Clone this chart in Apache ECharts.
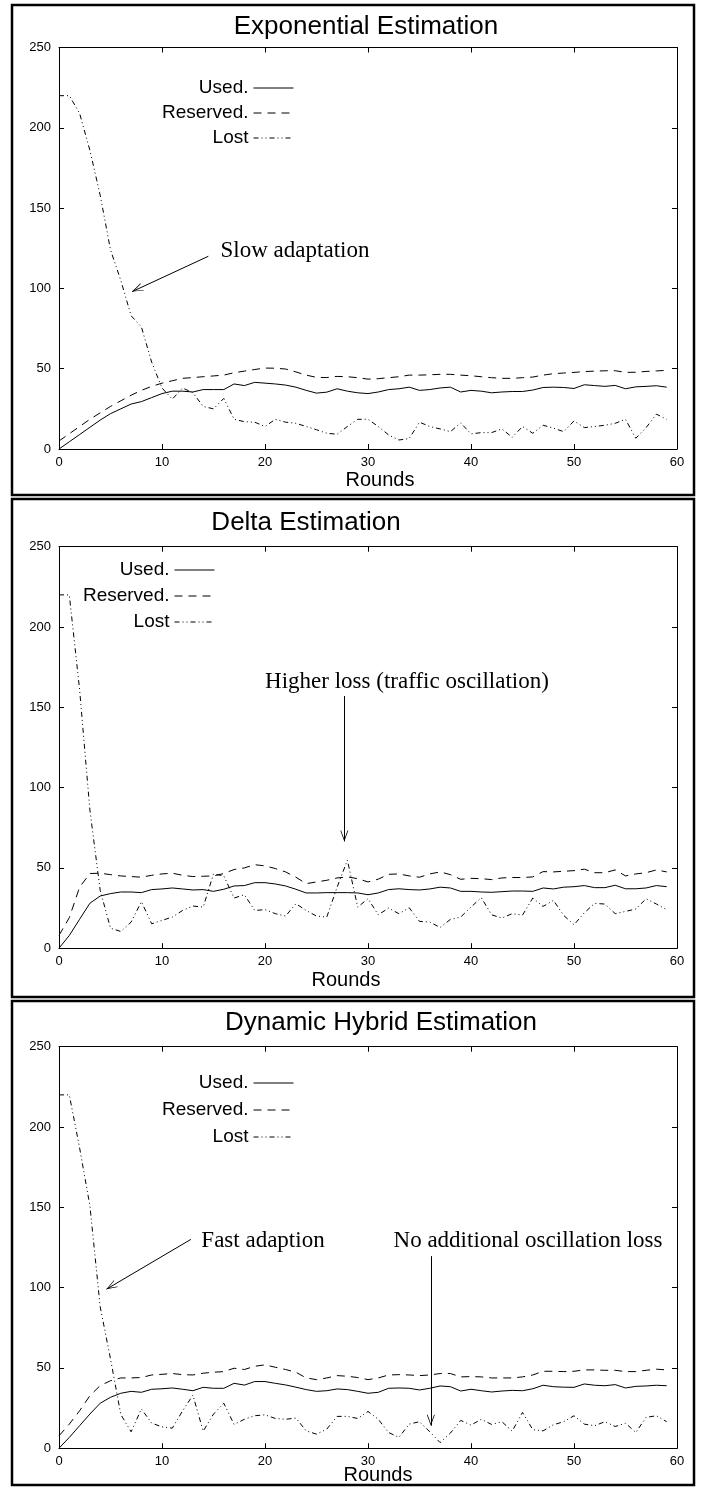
<!DOCTYPE html>
<html lang="en" style="height: 100%">
<head>
  <meta charset="utf-8">
  <title>Estimation comparison</title>
</head>
<body style="height: 100%; margin: 0; background: #fff">
  <div id="container" style="width: 704px; height: 1488px"></div>

  <script type="text/javascript" src="https://cdn.jsdelivr.net/npm/echarts@6/dist/echarts.min.js"></script>

  <script type="text/javascript">
    // x values (rounds)
    var rounds = [0, 1, 2, 3, 4, 5, 6, 7, 8, 9, 10, 11, 12, 13, 14, 15, 16, 17, 18, 19,
      20, 21, 22, 23, 24, 25, 26, 27, 28, 29, 30, 31, 32, 33, 34, 35, 36, 37, 38, 39,
      40, 41, 42, 43, 44, 45, 46, 47, 48, 49, 50, 51, 52, 53, 54, 55, 56, 57, 58, 59];

    // Exponential estimation
    var expUsed = [0, 4.5, 9, 13.5, 18, 22, 25, 28, 29.5, 32, 34.5, 36, 36, 35.5, 37, 37, 37, 40.5, 39.5, 41.5,
      41, 40.5, 39.8, 38.5, 36.5, 34.8, 35.4, 37.5, 36, 35, 34.5, 35.5, 37, 37.5, 38.5, 36.5, 37, 38, 38.5, 35.5,
      36.5, 36, 35, 35.5, 35.8, 35.8, 36.7, 38.3, 38.5, 38.3, 37.7, 40, 39.5, 39, 39.6, 37.5, 38.7, 39, 39.4, 38.5];
    var expRes = [5, 9.5, 14, 18.5, 22.5, 26.5, 30, 33.5, 36.5, 39, 41, 42.5, 44, 44.5, 45, 45.5, 46, 47.5, 48.5, 49.5,
      50.4, 50.3, 49.8, 48, 46, 44.6, 44.5, 45.2, 45, 44.4, 43.5, 43.8, 44.4, 45, 46, 46, 46.2, 46.5, 46.5, 46,
      45.6, 45, 44.4, 44, 44, 44.4, 44.8, 46, 46.9, 47.3, 47.7, 48.2, 48.5, 48.7, 48.75, 47.7, 47.8, 48.3, 48.6, 49];
    var expLost = [220, 220, 209, 186, 158, 124, 105, 83, 76, 54, 38, 31, 38, 35, 26.5, 25, 31.5, 18.5, 17, 16.7,
      14, 18.5, 16.7, 16, 14, 12, 9.8, 9.2, 14, 18.5, 18.5, 14, 8.75, 5.6, 6.5, 16.7, 14, 12.5, 10.8, 16.25,
      9.4, 10.2, 10.2, 12.5, 7.3, 14, 9.8, 14.8, 13, 10.8, 17.5, 13.3, 14, 14.8, 16, 18.5, 6.7, 13.3, 21.7, 18.5];

    // Delta estimation
    var deltaUsed = [0, 7.9, 18, 28, 32.5, 34, 35, 35, 34.6, 36.5, 36.9, 37.5, 36.9, 36.25, 36.5, 35.4, 36.7, 38.75, 39, 40.8,
      40.8, 40, 38.75, 36.7, 34.4, 34.4, 34.6, 34.6, 34.6, 34.4, 33.3, 34.4, 36.5, 37, 36.5, 36.25, 36.9, 38, 37.5, 35.4,
      35.4, 35, 34.8, 35.2, 35.6, 35.6, 35.4, 37.5, 36.9, 38, 38.3, 39, 37.7, 37.7, 39.2, 37, 37, 37.5, 39, 38.3];
    var deltaRes = [8, 19, 38, 46.5, 46.7, 45.8, 45, 44.6, 44.2, 45.4, 46.25, 46.7, 45.4, 44.6, 44.8, 45, 46.5, 49, 50, 52,
      51.25, 49.6, 47.5, 44.2, 40.2, 41.25, 42.3, 43.75, 44.4, 43.3, 41.25, 43, 46, 46.25, 45, 44.2, 46.25, 47.5, 45.8, 42.9,
      43.5, 43.3, 42.7, 43.75, 44, 44, 44.4, 47.7, 47.5, 47.9, 48.3, 49.2, 47, 47, 48.75, 45, 46.25, 47, 48.75, 47.5];
    var deltaLost = [220, 220, 161, 86, 36, 12.5, 10.4, 16.25, 29, 15.2, 17.3, 19.4, 23.5, 26.25, 25.6, 46.25, 45, 31.25, 33.3, 23.5,
      24, 21.5, 20, 27.7, 23.5, 20, 19.4, 38, 54.8, 25.6, 30.8, 20.8, 25, 21.5, 25.2, 16.7, 16.25, 12.9, 17.9, 19.4,
      25.6, 31.5, 20.8, 18.75, 21.5, 20.6, 31.25, 26, 29.8, 20.4, 14.6, 22, 27.9, 27.5, 21.5, 22.9, 24.4, 30.8, 27.5, 24];

    // Dynamic hybrid estimation
    var hybUsed = [0, 6.7, 14, 21.25, 28, 31.7, 34.2, 35.4, 34.8, 36.7, 37, 37.5, 36.7, 35.8, 37.9, 37.3, 37.3, 40.4, 39.3, 41.5,
      41.5, 40.4, 39.4, 38, 36.5, 35.4, 35.8, 36.9, 36.5, 35.4, 34.2, 34.8, 37.3, 37.5, 37.3, 36.25, 37.3, 38.75, 38.3, 35.6,
      36.7, 35.8, 35, 35.6, 36, 35.8, 37, 39.2, 38.3, 38, 37.9, 40, 39.2, 38.9, 39.6, 37.5, 38.5, 38.75, 39.2, 38.9];
    var hybRes = [7.7, 15, 23.3, 32.7, 39, 42, 43.75, 43.75, 44, 45.6, 46, 46.5, 45.8, 45.6, 46.7, 47.3, 47.7, 49.8, 49, 51,
      51.9, 50.4, 49, 47.3, 43.75, 42.7, 43.75, 45.2, 44.8, 44, 42.7, 43.75, 45.6, 45.8, 45.6, 45.2, 45.6, 46.5, 46.5, 44.4,
      44.6, 44.4, 43.75, 43.75, 43.75, 44.4, 45.6, 47.9, 47.9, 47.7, 47.9, 48.75, 48.75, 48.5, 48.5, 47.7, 47.7, 48.5, 49.2, 48.75];
    var hybLost = [220, 220, 187, 151, 88, 55.6, 21, 10.2, 24.4, 15.6, 13.3, 12.5, 23.3, 33, 10.6, 21.25, 28, 14.8, 18, 20.2,
      20.8, 18.5, 18, 18.75, 10.8, 8.75, 11.9, 19.8, 19.8, 18.5, 22.9, 18, 9.8, 6.7, 15, 16.5, 10.2, 3.5, 9.4, 17.3,
      14.4, 18, 14.8, 16.5, 10.6, 22.3, 11.5, 10.8, 14.6, 16.5, 20.2, 15, 14, 16.5, 13.5, 15.6, 9.8, 19.2, 20.2, 16.5];

    var seriesNames = ['Used.', 'Reserved.', 'Lost'];

    var SANS = '"Liberation Sans", Arial, Helvetica, sans-serif';
    var SERIF = '"Liberation Serif", "Times New Roman", serif';
    var lineTypes = ['solid', [8, 6], [5, 3, 1, 3, 1, 3]];
    // open V arrow head, tip sits at the symbol centre
    var arrowHead = 'path://M5,0 Z M5,10 L10,20 L9,20 L5,12 L1,20 L0,20 Z';

    var panels = [
      {
        title: 'Exponential Estimation', titleX: 366, titleY: 27,
        box: [12, 5, 682, 490], top: 47.5, roundsX: 380, roundsY: 480,
        legend: { right: 410, top: 78, gap: 5 },
        values: [expUsed, expRes, expLost],
        arrows: [[[14.5, 120], [7.1, 98]]],
        notes: [{ text: 'Slow adaptation', x: 295, y: 251 }]
      },
      {
        title: 'Delta Estimation', titleX: 306, titleY: 523,
        box: [12, 499, 682, 498], top: 546.7, roundsX: 346, roundsY: 980,
        legend: { right: 489, top: 560, gap: 6 },
        values: [deltaUsed, deltaRes, deltaLost],
        arrows: [[[27.7, 157], [27.7, 66.5]]],
        notes: [{ text: 'Higher loss (traffic oscillation)', x: 407, y: 682 }]
      },
      {
        title: 'Dynamic Hybrid Estimation', titleX: 381, titleY: 1023,
        box: [12, 1001, 682, 484], top: 1046.7, roundsX: 378, roundsY: 1475,
        legend: { right: 410, top: 1073, gap: 7 },
        values: [hybUsed, hybRes, hybLost],
        arrows: [[[12.8, 130], [4.6, 99]], [[36.1, 119.6], [36.1, 14]]],
        notes: [
          { text: 'Fast adaption', x: 263, y: 1241 },
          { text: 'No additional oscillation loss', x: 528, y: 1241 }
        ]
      }
    ];

    var dom = document.getElementById('container');
    var myChart = echarts.init(dom, null, { renderer: 'canvas' });

    var axisLine = { show: true, onZero: false, lineStyle: { color: '#000', width: 1 } };
    var axisTick = { show: true, inside: true, length: 5, lineStyle: { color: '#000', width: 1 } };

    var grids = [], xAxes = [], yAxes = [], series = [], legends = [], graphics = [];

    panels.forEach(function (p, i) {
      grids.push({ left: 59, right: 27, top: p.top, height: 401.5, containLabel: false });

      xAxes.push({
        type: 'value', gridIndex: i, position: 'bottom', min: 0, max: 60, interval: 10,
        axisLine: axisLine, axisTick: axisTick, splitLine: { show: false },
        axisLabel: { color: '#000', fontFamily: SANS, fontSize: 13, margin: 7 }
      });
      xAxes.push({
        type: 'value', gridIndex: i, position: 'top', min: 0, max: 60, interval: 10,
        axisLine: axisLine, axisTick: axisTick, splitLine: { show: false },
        axisLabel: { show: false }
      });
      yAxes.push({
        type: 'value', gridIndex: i, position: 'left', min: 0, max: 250, interval: 50,
        axisLine: axisLine, axisTick: axisTick, splitLine: { show: false },
        axisLabel: { color: '#000', fontFamily: SANS, fontSize: 13, margin: 8 }
      });
      yAxes.push({
        type: 'value', gridIndex: i, position: 'right', min: 0, max: 250, interval: 50,
        axisLine: axisLine, axisTick: axisTick, splitLine: { show: false },
        axisLabel: { show: false }
      });

      seriesNames.forEach(function (name, k) {
        var s = {
          name: name,
          type: 'line',
          xAxisIndex: 2 * i,
          yAxisIndex: 2 * i,
          symbol: 'none',
          silent: true,
          color: '#000',
          lineStyle: { color: '#000', width: 1, type: lineTypes[k] },
          data: rounds.map(function (r, j) { return [r, p.values[k][j]]; })
        };
        if (k === 2) {
          s.markLine = {
            silent: true,
            symbol: ['none', arrowHead],
            symbolSize: [8, 22],
            label: { show: false },
            lineStyle: { color: '#000', width: 1, type: 'solid' },
            emphasis: { disabled: true },
            data: p.arrows.map(function (a) {
              return [{ coord: a[0] }, { coord: a[1] }];
            })
          };
        }
        series.push(s);
      });

      legends.push({
        orient: 'vertical',
        right: p.legend.right,
        top: p.legend.top,
        align: 'right',
        padding: 0,
        itemGap: p.legend.gap,
        itemWidth: 40,
        itemHeight: 14,
        selectedMode: false,
        textStyle: { color: '#000', fontFamily: SANS, fontSize: 19, lineHeight: 20 },
        lineStyle: { width: 1 },
        // no marker on the key, only the line sample
        itemStyle: { color: 'rgba(0,0,0,0)', borderColor: 'rgba(0,0,0,0)', borderWidth: 0 },
        data: seriesNames
      });

      graphics.push({
        type: 'rect', silent: true,
        shape: { x: p.box[0], y: p.box[1], width: p.box[2], height: p.box[3] },
        style: { fill: 'none', stroke: '#000', lineWidth: 2.5 }
      });
      graphics.push({
        type: 'text', silent: true, x: p.titleX, y: p.titleY,
        style: { text: p.title, font: '26px ' + SANS, fill: '#000', align: 'center', verticalAlign: 'middle' }
      });
      graphics.push({
        type: 'text', silent: true, x: p.roundsX, y: p.roundsY,
        style: { text: 'Rounds', font: '20px ' + SANS, fill: '#000', align: 'center', verticalAlign: 'middle' }
      });
      p.notes.forEach(function (n) {
        graphics.push({
          type: 'text', silent: true, x: n.x, y: n.y,
          style: { text: n.text, font: '23px ' + SERIF, fill: '#000', align: 'center', verticalAlign: 'middle' }
        });
      });
    });

    var option = {
      animation: false,
      backgroundColor: '#fff',
      grid: grids,
      xAxis: xAxes,
      yAxis: yAxes,
      legend: legends,
      series: series,
      graphic: graphics
    };

    myChart.setOption(option);

    window.addEventListener('resize', function () {
      myChart.resize();
    });
  </script>
</body>
</html>
